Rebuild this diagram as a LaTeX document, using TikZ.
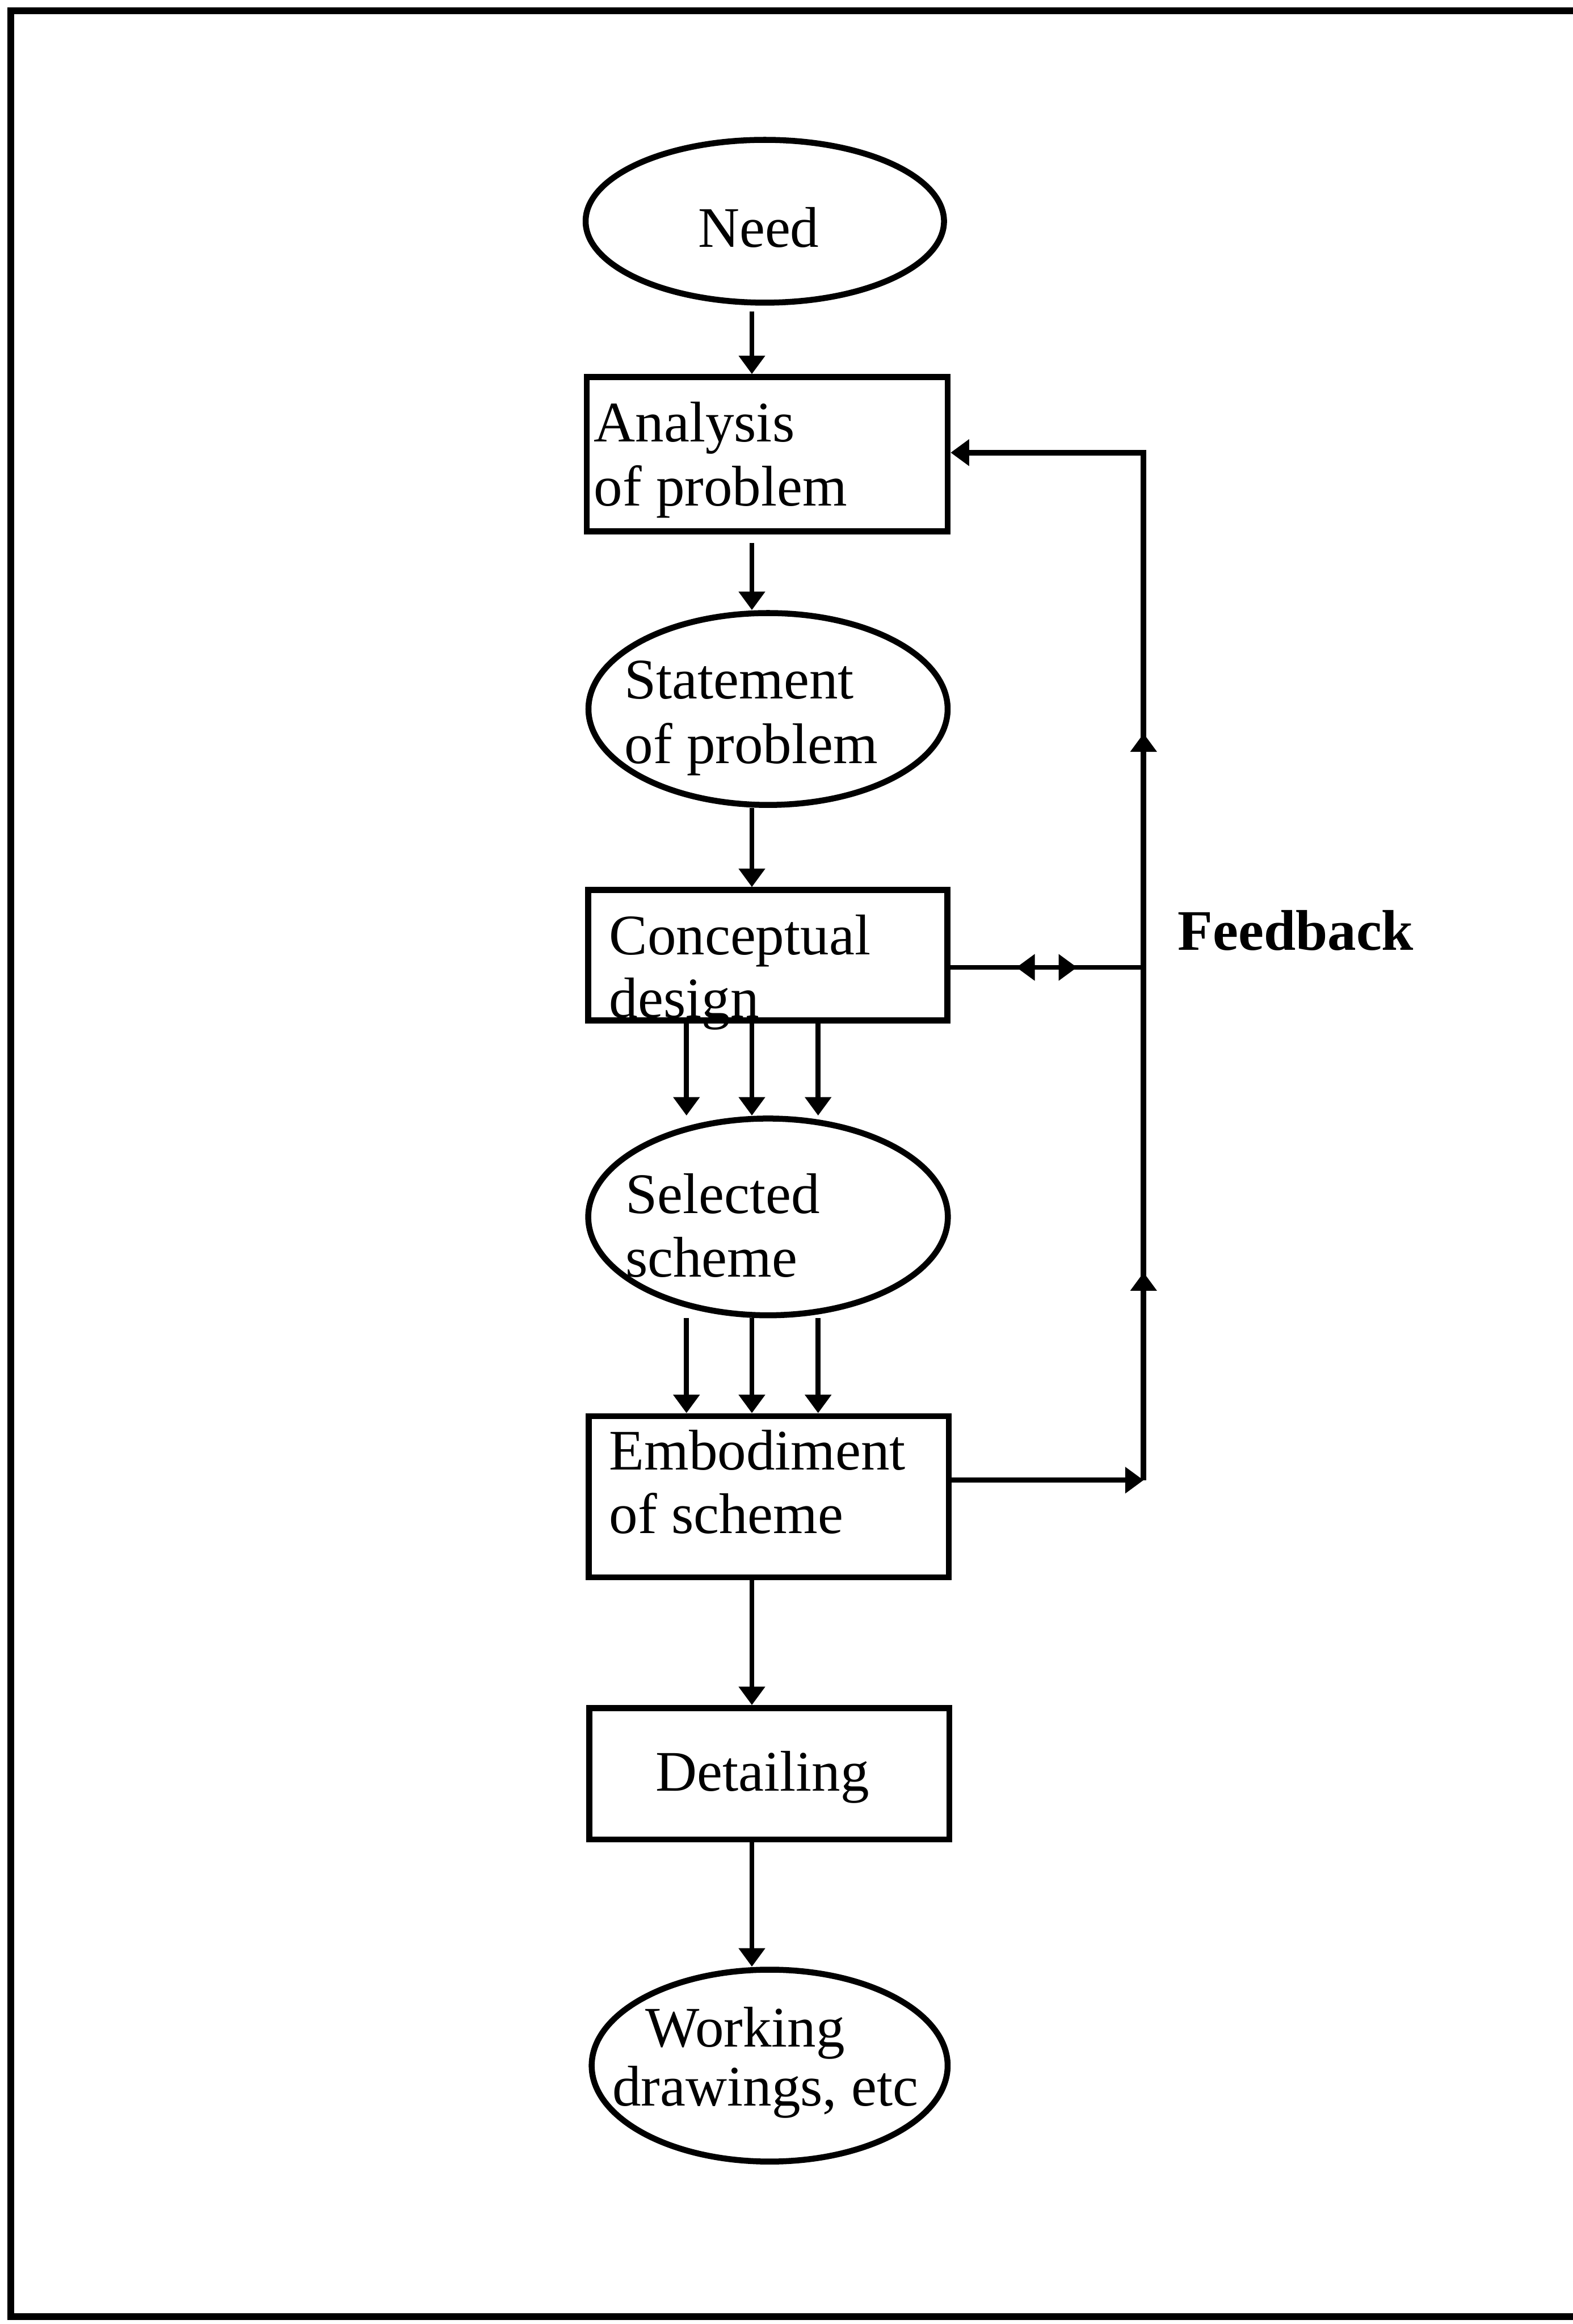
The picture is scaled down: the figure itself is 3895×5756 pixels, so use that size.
\documentclass[tikz,border=0pt]{standalone}
\usepackage{fontspec}
\setmainfont{Liberation Serif}
\usetikzlibrary{shapes.geometric,arrows.meta,decorations.markings}

\tikzset{
  flowtip/.tip={Triangle[length=13pt,width=18pt]},
  outline/.style={draw, line width=4.2pt},
  box/.style={outline, rectangle, inner sep=0pt},
  oval/.style={outline, ellipse, inner sep=0pt},
  txt/.style={anchor=base west, inner sep=0pt, font=\fontsize{40.4pt}{45pt}\selectfont},
  arr/.style={line width=3.5pt, -flowtip},
  fbline/.style={line width=3.9pt, line join=miter},
}

\begin{document}
\begin{tikzpicture}[x=0.01cm, y=-0.01cm]
\useasboundingbox (0,0) rectangle (3895,5756);

% frame (open on the right)
\draw[line width=4.8pt] (3895,26) -- (27,26) -- (27,5738) -- (3895,5738);

% column and row guides for the connectors
\coordinate (colL) at (1700,0);
\coordinate (colM) at (1862,0);
\coordinate (colR) at (2026,0);
\coordinate (fbx)  at (2832,0);
\coordinate (rowA) at (0,1121);
\coordinate (rowC) at (0,2396);
\coordinate (rowE) at (0,3666);

% process shapes
\node[oval, minimum width=8.87cm, minimum height=4.03cm] (need)       at (1894,548)  {};
\node[box,  minimum width=8.93cm, minimum height=3.82cm] (analysis)   at (1900,1125) {};
\node[oval, minimum width=8.89cm, minimum height=4.75cm] (statement)  at (1902,1756) {};
\node[box,  minimum width=8.89cm, minimum height=3.23cm] (conceptual) at (1901,2366) {};
\node[oval, minimum width=8.90cm, minimum height=4.87cm] (selected)   at (1902,3014) {};
\node[box,  minimum width=8.91cm, minimum height=3.99cm] (embodiment) at (1904,3707) {};
\node[box,  minimum width=8.91cm, minimum height=3.25cm] (detailing)  at (1905,4393) {};
\node[oval, minimum width=8.81cm, minimum height=4.75cm] (working)    at (1906,5116) {};

% labels
\node[txt] (needT)  at (1728,612)  {Need};
\node[txt] (anaT1)  at (1470,1094) {Analysis};
\node[txt] (anaT2)  at (1470,1253) {of problem};
\node[txt] (staT1)  at (1546,1730) {Statement};
\node[txt] (staT2)  at (1546,1891) {of problem};
\node[txt] (conT1)  at (1508,2364) {Conceptual};
\node[txt] (conT2)  at (1508,2520) {design};
\node[txt] (selT1)  at (1548,3005) {Selected};
\node[txt] (selT2)  at (1548,3163) {scheme};
\node[txt] (embT1)  at (1508,3640) {Embodiment};
\node[txt] (embT2)  at (1508,3798) {of scheme};
\node[txt] (detT)   at (1623,4435) {Detailing};
\node[txt] (worT1)  at (1598,5069) {Working};
\node[txt] (worT2)  at (1516,5216) {drawings, etc};
\node[txt, font=\fontsize{40.4pt}{45pt}\selectfont\bfseries] (fbT) at (2916,2353) {Feedback};

% main flow
\draw[arr, shorten <=4pt] (need.south -| colM) -- (analysis.north -| colM);
\draw[arr, shorten <=6pt] (analysis.south -| colM) -- (statement.north -| colM);
\draw[arr] (statement.south -| colM) -- (conceptual.north -| colM);
\foreach \c in {colL,colM,colR}{
  \draw[arr] (conceptual.south -| \c) -- (selected.north -| \c);
  \draw[arr] (selected.south -| \c) -- (embodiment.north -| \c);
}
\draw[arr] (embodiment.south -| colM) -- (detailing.north -| colM);
\draw[arr] (detailing.south -| colM) -- (working.north -| colM);

% feedback loop
\draw[arr] (embodiment.east |- rowE) -- (fbx |- rowE);
\draw[fbline, -flowtip, postaction={decorate}, decoration={markings,
    mark=at position 0.1703 with {\arrow{flowtip}},
    mark=at position 0.6119 with {\arrow{flowtip}}}]
  (fbx |- rowE) -- (fbx |- rowA) -- (analysis.east |- rowA);
\draw[line width=3.5pt, postaction={decorate}, decoration={markings,
    mark=at position 0.342 with {\arrowreversed{flowtip}},
    mark=at position 0.656 with {\arrow{flowtip}}}]
  (conceptual.east |- rowC) -- (fbx |- rowC);
\end{tikzpicture}
\end{document}
